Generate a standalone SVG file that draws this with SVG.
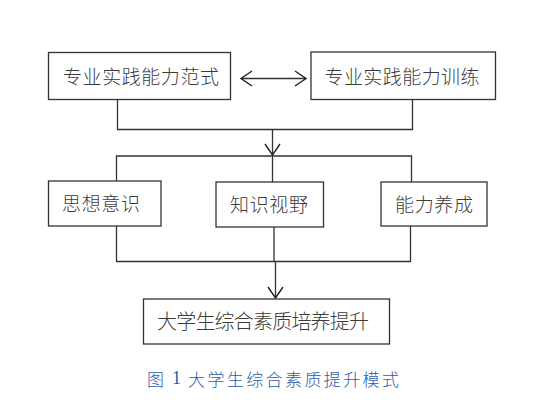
<svg xmlns="http://www.w3.org/2000/svg" width="533" height="409" viewBox="0 0 533 409">
<defs>
<marker id="arr" markerUnits="userSpaceOnUse" markerWidth="20" markerHeight="20" viewBox="-14 -10 16 20" refX="0" refY="0" orient="auto-start-reverse" overflow="visible">
<path d="M-11,-7.5 L0,0 L-11,7.5" fill="none" stroke="#222" stroke-width="1.4"/>
</marker>
<style>
.box{fill:#fff;stroke:#333;stroke-width:1.3}
.lbl{font-family:"Noto Sans CJK SC","Noto Sans CJK JP",sans-serif;font-weight:300;fill:#3c3c3c;text-anchor:middle;dominant-baseline:central}
.con{fill:none;stroke:#333;stroke-width:1.3}
.cap{font-family:"Noto Sans CJK SC","Noto Sans CJK JP",sans-serif;font-weight:300;fill:#2a5caa;font-size:17px;dominant-baseline:central}
</style>
</defs>
<rect width="533" height="409" fill="#fff"/>
<g id="connectors">
<path class="con" d="M241,78.5 H306" marker-start="url(#arr)" marker-end="url(#arr)"/>
<path class="con" d="M117.5,99.5 V129.5 H412.5 V99.5"/>
<path class="con" d="M272.5,129.5 V155" marker-end="url(#arr)"/>
<path class="con" d="M116.5,181 V156 H411.5 V182 M272.5,156 V182"/>
<path class="con" d="M116.5,226 V261.5 H410.5 V226 M274,227 V261.5"/>
<path class="con" d="M275.5,261.5 V298" marker-end="url(#arr)"/>
</g>
<g id="node-fanshi">
<rect class="box" x="48.5" y="52.5" width="182" height="47"/>
<text class="lbl" x="141" y="75" font-size="19" textLength="156" lengthAdjust="spacing">专业实践能力范式</text>
</g>
<g id="node-xunlian">
<rect class="box" x="311" y="52" width="184.5" height="47.5"/>
<text class="lbl" x="402" y="75" font-size="19" textLength="155" lengthAdjust="spacing">专业实践能力训练</text>
</g>
<g id="node-sixiang">
<rect class="box" x="48.5" y="181" width="112.5" height="45"/>
<text class="lbl" x="101" y="202.5" font-size="19" textLength="78" lengthAdjust="spacing">思想意识</text>
</g>
<g id="node-zhishi">
<rect class="box" x="216" y="182" width="107.5" height="45"/>
<text class="lbl" x="269" y="203.5" font-size="19" textLength="78" lengthAdjust="spacing">知识视野</text>
</g>
<g id="node-nengli">
<rect class="box" x="381" y="182" width="106" height="44"/>
<text class="lbl" x="434" y="203" font-size="19" textLength="78" lengthAdjust="spacing">能力养成</text>
</g>
<g id="node-tisheng">
<rect class="box" x="143.5" y="299" width="246" height="45"/>
<text class="lbl" x="263" y="320" font-size="20" textLength="212" lengthAdjust="spacing">大学生综合素质培养提升</text>
</g>
<g id="caption">
<text class="cap" y="378"><tspan x="147">图</tspan><tspan x="172" font-family="Liberation Serif, serif" font-size="18">1</tspan><tspan x="188" textLength="211" lengthAdjust="spacing">大学生综合素质提升模式</tspan></text>
</g>
</svg>
